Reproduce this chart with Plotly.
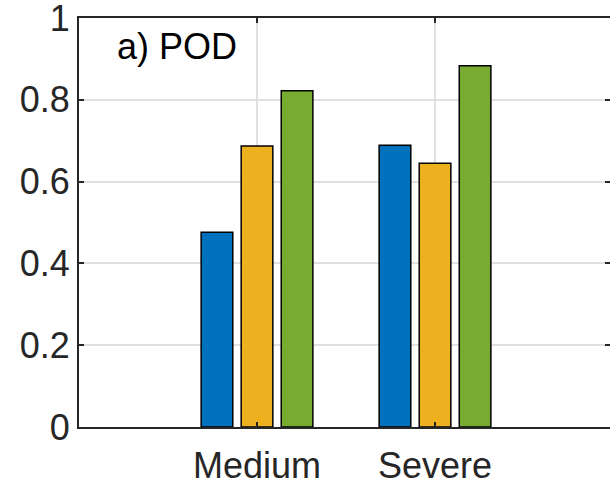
import plotly.graph_objects as go

categories = ["Medium", "Severe"]
cat_pos = [1, 2]
series_a = [0.476, 0.689]   # blue
series_b = [0.687, 0.645]   # yellow
series_c = [0.822, 0.883]   # green
colors = ["#0072BD", "#EDB120", "#77AC30"]
y_ticks = [0, 0.2, 0.4, 0.6, 0.8, 1]
y_ticklabels = ["0", "0.2", "0.4", "0.6", "0.8", "1"]

FONT = "Arial, Liberation Sans, sans-serif"
AX = "#262626"
GRID = "#e0e0e0"

fig = go.Figure()
for vals, col in zip([series_a, series_b, series_c], colors):
    fig.add_trace(go.Bar(x=cat_pos, y=vals, marker=dict(color=col, line=dict(color="black", width=1.5)),
                         showlegend=False))
# invisible trace to carry right-side ticks
fig.add_trace(go.Scatter(x=[cat_pos[0]], y=[0], yaxis="y2", mode="markers",
                         marker=dict(opacity=0), showlegend=False, hoverinfo="skip"))

fig.update_layout(
    width=610, height=482,
    margin=dict(l=79, r=0, t=18, b=55),
    paper_bgcolor="white", plot_bgcolor="white",
    barmode="group", bargap=0.325, bargroupgap=0.21,
    font=dict(family=FONT, size=36, color=AX),
    xaxis=dict(range=[0, 2.983], tickvals=cat_pos, ticktext=categories,
               showgrid=True, gridcolor=GRID, gridwidth=1.5,
               showline=True, linecolor=AX, linewidth=2, mirror="ticks",
               ticks="inside", ticklen=5, tickcolor=AX, tickwidth=1.5,
               ticklabelstandoff=6, automargin=False, ticklabeloverflow="allow",
               tickfont=dict(size=36, color=AX), zeroline=False),
    yaxis=dict(range=[0, 1], tickvals=y_ticks, ticktext=y_ticklabels,
               showgrid=True, gridcolor=GRID, gridwidth=1.5,
               showline=True, linecolor=AX, linewidth=2,
               ticks="inside", ticklen=5, tickcolor=AX, tickwidth=1.5,
               automargin=False, ticklabeloverflow="allow",
               tickfont=dict(size=36, color=AX), zeroline=False),
    yaxis2=dict(range=[0, 1], overlaying="y", side="right", anchor="x",
                tickvals=y_ticks, showticklabels=False, showgrid=False,
                showline=False, zeroline=False, automargin=False,
                ticks="inside", ticklen=5, tickcolor=AX, tickwidth=1.5),
    annotations=[dict(x=0.202, y=0.93, xref="x", yref="y", text="a) POD",
                      showarrow=False, xanchor="left", yanchor="middle",
                      font=dict(family=FONT, size=36, color="black"))],
)

fig.write_html("out.html")
